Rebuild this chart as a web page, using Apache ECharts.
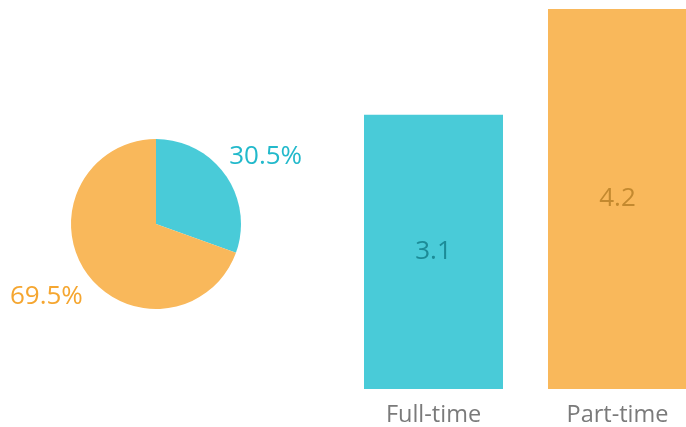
<!DOCTYPE html>
<html><head><meta charset="utf-8">
<script src="https://cdn.jsdelivr.net/npm/echarts@6/dist/echarts.min.js"></script>
<style>html,body{margin:0;padding:0;background:#fff;overflow:hidden;width:686px;height:427px}#c{width:720px;height:427px}</style>
</head><body><div id="c"></div>
<script>
var pieNames = ['Full-time', 'Part-time'];
var pieShares = [30.5, 69.5];
var barCategories = ['Full-time', 'Part-time'];
var barValues = [3.06, 4.24];
var fillColors = ['#49CBD8', '#F9B85B'];
var pieLabelColors = ['#22B9CB', '#F5A630'];
var barLabelColors = ['#1C8B97', '#C3892F'];

var FONT = 'Open Sans';
var cx = 156, cy = 224;
var total = pieShares.reduce(function(a,b){return a+b;},0);
var mids = [], acc = 0;
pieShares.forEach(function(v){ mids.push((acc + v/2)/total*2*Math.PI); acc += v; });

var chart = echarts.init(document.getElementById('c'));
chart.setOption({
  animation: false,
  grid: {left: 341.5, width: 368, top: 9, bottom: 37, containLabel: false},
  xAxis: {
    type: 'category', data: barCategories,
    axisLine: {show: false}, axisTick: {show: false},
    axisLabel: {color: '#7a7a7a', fontSize: 23.5, fontFamily: FONT, margin: 14}
  },
  yAxis: {type: 'value', min: 0, max: 'dataMax', show: false, splitLine: {show: false}},
  series: [
    {
      type: 'pie', center: [cx, cy], radius: 85, startAngle: 90, clockwise: true,
      data: pieNames.map(function(n,i){
        return {name: n, value: pieShares[i], itemStyle: {color: fillColors[i]},
          label: {color: pieLabelColors[i]}};
      }),
      label: {show: true, position: 'inside', fontSize: 26, fontFamily: FONT,
        formatter: function(p){ return p.value.toFixed(1) + '%'; }},
      labelLine: {show: false},
      labelLayout: function(p){
        var a = mids[p.dataIndex];
        return {x: cx + 134*Math.sin(a), y: cy - 118*Math.cos(a) + (Math.cos(a) < 0 ? 5 : 0),
          align: 'center', verticalAlign: 'middle'};
      },
      silent: true
    },
    {
      type: 'bar', barWidth: 139,
      data: barValues.map(function(v,i){
        return {value: v, itemStyle: {color: fillColors[i]}, label: {color: barLabelColors[i]}};
      }),
      label: {show: true, position: 'inside', fontSize: 26, fontFamily: FONT,
        formatter: function(p){ return p.value.toFixed(1); }},
      silent: true
    }
  ]
});
</script></body></html>
